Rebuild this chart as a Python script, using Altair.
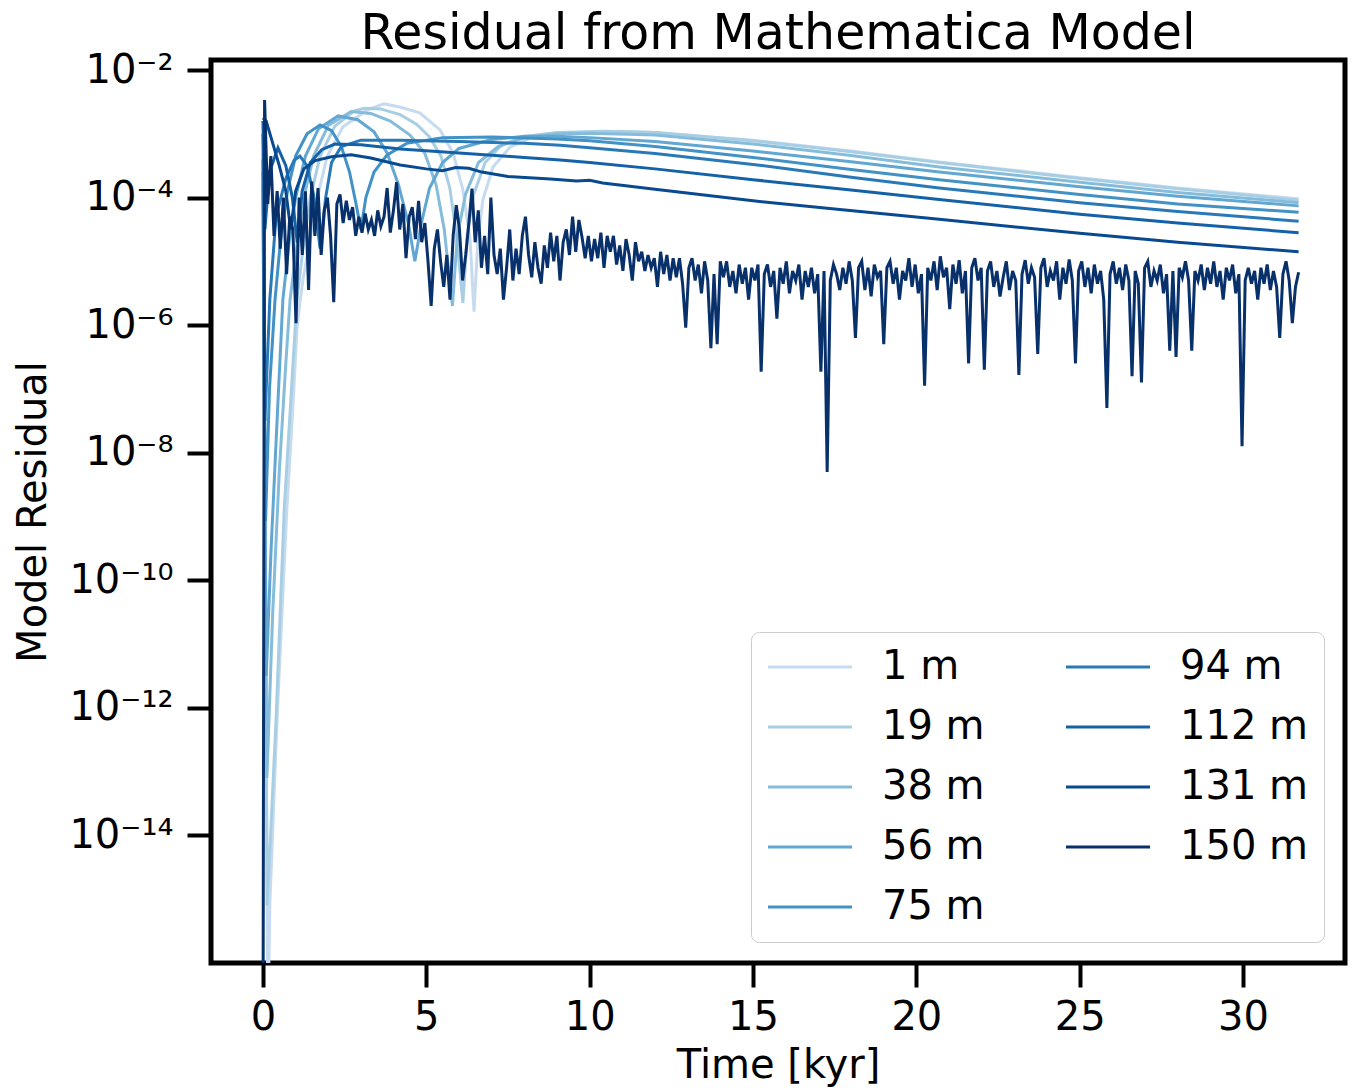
import altair as alt
import numpy as np
import pandas as pd

# ---------------- data ----------------
depths = ["1 m", "19 m", "38 m", "56 m", "75 m", "94 m", "112 m", "131 m", "150 m"]
colors = ["#c6dbef", "#a8cee4", "#85bcdb", "#61a7d2", "#4292c6",
          "#2979b9", "#1461a8", "#084990", "#08306b"]

# time [kyr] and log10(residual) for the smooth series
t_1m = [0.0, 0.15, 0.21, 0.43, 0.73, 0.92, 1.04, 1.13, 1.22, 1.44, 1.65, 1.96, 2.45, 3.18, 3.7,
        4.19, 4.8, 5.42, 5.82, 6.12, 6.34, 6.46, 6.58, 6.73, 7.04, 7.56, 8.26, 9.09, 10.0, 11.0,
        12.0, 15.0, 18.0, 20.7, 25.0, 28.0, 31.7]
e_1m = [-4.0, -17.0, -15.1, -12.2, -8.9, -7.25, -6.07, -5.65, -5.3, -4.66, -4.04, -3.36, -2.89, -2.63, -2.53,
        -2.58, -2.67, -2.94, -3.30, -3.88, -4.66, -5.79, -4.66, -4.04, -3.52, -3.21, -3.05, -2.99, -2.97, -2.96,
        -2.98, -3.10, -3.27, -3.44, -3.69, -3.85, -4.02]

t_19m = [0.0, 0.13, 0.4, 0.65, 0.85, 1.04, 1.25, 1.45, 1.75, 2.2, 2.8, 3.1, 3.6, 4.2, 4.7, 5.1,
         5.45, 5.72, 5.93, 6.12, 6.25, 6.45, 6.8, 7.3, 8.0, 9.0, 10.5, 12.0, 15.0, 18.0, 20.7,
         25.0, 28.0, 31.7]
e_19m = [-3.9, -15.1, -12.2, -8.9, -7.2, -5.6, -4.7, -4.0, -3.35, -2.88, -2.64, -2.6, -2.61, -2.7, -2.85, -3.05,
         -3.35, -3.85, -4.6, -5.65, -4.6, -3.95, -3.45, -3.18, -3.04, -2.98, -2.96, -2.98, -3.11, -3.28, -3.45,
         -3.7, -3.86, -4.04]

t_38m = [0.0, 0.12, 0.3, 0.5, 0.7, 0.83, 1.05, 1.25, 1.55, 2.0, 2.7, 3.3, 3.9, 4.5, 4.95, 5.3,
         5.55, 5.8, 5.95, 6.2, 6.6, 7.2, 8.0, 9.0, 10.0, 12.0, 15.0, 18.0, 20.7, 25.0, 28.0, 31.7]
e_38m = [-3.8, -13.1, -10.5, -8.3, -6.6, -5.6, -4.7, -4.0, -3.35, -2.87, -2.65, -2.68, -2.8, -3.02, -3.3, -3.8,
         -4.5, -5.7, -4.6, -3.95, -3.45, -3.2, -3.06, -3.0, -2.99, -3.02, -3.16, -3.34, -3.52, -3.76, -3.92, -4.08]

t_56m = [0.0, 0.1, 0.25, 0.45, 0.61, 0.8, 1.0, 1.3, 1.7, 2.3, 2.9, 3.4, 3.8, 4.15, 4.45, 4.65,
         4.85, 5.1, 5.5, 6.0, 7.0, 8.0, 9.0, 10.0, 12.0, 15.0, 18.0, 20.7, 25.0, 28.0, 31.7]
e_56m = [-3.6, -11.5, -9.5, -7.3, -5.6, -4.7, -4.0, -3.35, -2.92, -2.72, -2.78, -2.97, -3.3, -3.8, -4.4, -5.0,
         -4.4, -3.85, -3.45, -3.23, -3.09, -3.04, -3.04, -3.06, -3.12, -3.27, -3.44, -3.6, -3.83, -3.98, -4.13]

t_75m = [0.0, 0.08, 0.2, 0.37, 0.55, 0.75, 1.0, 1.35, 1.75, 2.1, 2.4, 2.65, 2.85, 3.0, 3.15,
         3.4, 3.8, 4.4, 5.5, 7.0, 9.0, 10.0, 12.0, 15.0, 18.0, 20.7, 25.0, 28.0, 31.7]
e_75m = [-3.4, -9.07, -7.0, -5.6, -4.6, -3.9, -3.35, -3.0, -2.86, -2.95, -3.2, -3.6, -4.1, -4.5, -4.0,
         -3.6, -3.33, -3.15, -3.06, -3.05, -3.08, -3.11, -3.2, -3.37, -3.56, -3.72, -3.95, -4.1, -4.23]

t_94m = [0.0, 0.06, 0.21, 0.4, 0.7, 0.95, 1.13, 1.35, 1.55, 1.75, 1.92, 2.1, 2.4, 3.0, 4.2,
         6.0, 8.0, 9.1, 10.0, 12.0, 15.0, 18.0, 20.7, 25.0, 28.0, 31.7]
e_94m = [-3.0, -7.5, -5.6, -4.3, -3.7, -3.42, -3.35, -3.5, -3.95, -4.8, -4.0, -3.45, -3.2, -3.1, -3.1,
         -3.12, -3.15, -3.18, -3.22, -3.31, -3.48, -3.68, -3.85, -4.08, -4.22, -4.37]

t_112m = [0.0, 0.06, 0.2, 0.46, 0.7, 0.9, 1.05, 1.2, 1.45, 1.8, 2.2, 3.0, 4.2, 6.0, 8.0, 9.1,
          10.0, 12.0, 15.0, 18.0, 20.7, 25.0, 28.0, 31.7]
e_112m = [-2.8, -4.5, -3.6, -3.22, -3.5, -4.0, -4.7, -3.9, -3.45, -3.25, -3.16, -3.17, -3.24, -3.3, -3.37, -3.41,
          -3.45, -3.55, -3.72, -3.88, -4.03, -4.26, -4.4, -4.55]

t_131m = [0.0, 0.1, 0.3, 0.5, 0.7, 0.85, 1.0, 1.25, 1.6, 2.1, 2.7, 3.3, 4.2, 5.0, 5.5, 5.9,
          6.3, 6.7, 7.5, 8.8, 9.6, 10.0, 10.4, 12.0, 15.0, 17.5, 20.7, 25.0, 28.0, 31.7]
e_131m = [-2.75, -2.8, -3.15, -3.5, -3.9, -4.5, -3.9, -3.55, -3.42, -3.36, -3.33, -3.38, -3.49, -3.55, -3.58, -3.53,
          -3.54, -3.6, -3.67, -3.71, -3.74, -3.73, -3.77, -3.87, -4.05, -4.18, -4.34, -4.56, -4.7, -4.85]

# noisy 150 m series: first sample at t=0 is off-scale (below 1e-16), then a regular sampling
e_150m_noisy = [
    -2.47, -4.1, -3.35, -4.6, -3.9, -4.8, -4.0, -5.2, -4.3, -4.5,
    -5.97, -4.0, -4.9, -3.9, -5.45, -3.75, -4.6, -3.85, -4.9, -4.2,
    -4.0, -4.6, -5.64, -4.1, -3.95, -4.4, -4.05, -4.35, -4.15, -4.6,
    -4.3, -4.55, -4.25, -4.5, -4.35, -4.6, -4.2, -4.45, -4.3, -3.85,
    -4.55, -4.2, -3.76, -4.5, -4.1, -4.95, -4.3, -4.15, -4.65, -4.05,
    -4.7, -4.4, -5.0, -5.7, -4.8, -4.5, -5.0, -5.4, -4.9, -5.6,
    -4.6, -4.12, -4.5, -5.3, -4.9, -4.4, -3.86, -4.7, -4.2, -5.1,
    -4.6, -5.2, -4.0, -4.9, -5.2, -4.8, -5.6, -5.1, -4.5, -5.3,
    -4.8, -5.2, -4.6, -4.3, -4.9, -5.25, -4.7, -5.1, -5.35, -4.75,
    -5.1, -4.55, -5.0, -4.6, -5.3, -4.7, -4.5, -4.9, -4.3, -4.85,
    -4.35, -4.62, -4.95, -4.6, -5.0, -4.65, -4.95, -4.55, -5.1, -4.6,
    -4.85, -4.6, -5.05, -4.75, -5.15, -4.65, -4.9, -5.3, -4.7, -5.0,
    -4.85, -5.15, -4.9, -5.1, -4.95, -5.4, -4.85, -5.2, -4.9, -5.3,
    -4.95, -5.25, -4.95, -5.35, -6.04, -5.1, -4.95, -5.3, -5.05, -5.5,
    -5.0, -5.3, -6.36, -5.2, -6.3, -5.0, -5.25, -5.0, -5.4, -5.15,
    -5.5, -5.05, -5.35, -5.1, -5.6, -5.1, -5.3, -5.05, -6.73, -5.2,
    -5.05, -5.4, -5.15, -5.9, -5.1, -5.35, -5.0, -5.5, -5.15, -5.3,
    -5.05, -5.6, -5.15, -5.4, -5.1, -5.5, -5.2, -6.73, -5.15, -8.3,
    -5.3, -5.05, -5.2, -5.45, -5.1, -5.35, -5.0, -5.3, -6.2, -5.1,
    -5.0, -5.45, -5.1, -5.55, -5.05, -5.25, -5.15, -6.3, -5.1, -5.0,
    -5.35, -5.1, -5.6, -5.15, -5.3, -4.95, -5.4, -5.05, -5.5, -5.2,
    -6.95, -5.1, -5.3, -5.0, -5.45, -4.92, -5.25, -5.1, -5.75, -5.05,
    -5.35, -4.98, -5.5, -5.15, -6.6, -5.1, -4.95, -5.3, -5.1, -6.7,
    -5.15, -5.0, -5.4, -5.15, -5.55, -5.25, -5.0, -5.45, -5.15, -5.3,
    -6.78, -5.2, -4.98, -5.35, -5.1, -5.25, -6.45, -5.1, -4.95, -5.4,
    -5.15, -5.3, -5.0, -5.6, -5.1, -5.35, -4.97, -5.3, -6.6, -5.15,
    -5.0, -5.4, -5.1, -5.5, -5.05, -5.35, -5.15, -5.6, -7.3, -5.2,
    -5.0, -5.35, -5.1, -5.45, -5.05, -5.3, -6.8, -5.15, -5.35, -6.9,
    -5.1, -5.0, -5.4, -5.15, -5.3, -5.05, -5.5, -5.2, -6.4, -5.15,
    -6.5, -5.1, -5.25, -5.0, -5.3, -6.4, -5.15, -5.3, -5.05, -5.45,
    -5.1, -5.35, -5.0, -5.4, -5.15, -5.6, -5.1, -5.3, -5.05, -5.5,
    -5.2, -7.9, -5.3, -5.1, -5.35, -5.15, -5.6, -5.1, -5.35, -5.05,
    -5.45, -5.15, -5.4, -6.2, -5.2, -5.0, -5.3, -5.97, -5.4, -5.17,
]
t_150m = [0.0] + [round(float(v), 4) for v in np.linspace(0.05, 31.7, len(e_150m_noisy))]
e_150m = [-18.0] + e_150m_noisy

series_t = [t_1m, t_19m, t_38m, t_56m, t_75m, t_94m, t_112m, t_131m, t_150m]
series_e = [e_1m, e_19m, e_38m, e_56m, e_75m, e_94m, e_112m, e_131m, e_150m]

x_ticks = [0, 5, 10, 15, 20, 25, 30]
y_tick_exps = [-2, -4, -6, -8, -10, -12, -14]
y_tick_labels = ["10\u207b\u00b2", "10\u207b\u2074", "10\u207b\u2076", "10\u207b\u2078",
                 "10\u207b\u00b9\u2070", "10\u207b\u00b9\u00b2", "10\u207b\u00b9\u2074"]

# ---------------- table ----------------
rows = []
for s, (d, ts, es) in enumerate(zip(depths, series_t, series_e)):
    for k, (t, e) in enumerate(zip(ts, es)):
        rows.append({"t": t, "v": 10.0 ** e, "depth": d, "k": k, "s": s})
df = pd.DataFrame(rows)

label_expr = "".join(
    f"round(log(datum.value)/LN10) == {e} ? '{lab}' : " for e, lab in zip(y_tick_exps, y_tick_labels)
) + "''"

FONT = "DejaVu Sans"

chart = alt.Chart(df).mark_line(strokeWidth=3, clip=True).encode(
    x=alt.X("t:Q",
            scale=alt.Scale(domain=[-1.59, 33.12], nice=False, zero=False),
            axis=alt.Axis(values=x_ticks, title="Time [kyr]", format="d",
                          tickSize=24, tickWidth=4, tickColor="black", domain=False, grid=False,
                          labelFontSize=40, labelFont=FONT, labelColor="black", labelPadding=10,
                          titleFontSize=40, titleFont=FONT, titleFontWeight="normal", titleColor="black",
                          titleX=567, titleY=114, titleBaseline="alphabetic", titleAlign="center")),
    y=alt.Y("v:Q",
            scale=alt.Scale(type="log", domain=[1e-16, 10 ** -1.843], nice=False),
            axis=alt.Axis(values=[10.0 ** e for e in y_tick_exps], labelExpr=label_expr,
                          title="Model Residual",
                          tickSize=24, tickWidth=4, tickColor="black", domain=False, grid=False,
                          labelFontSize=40, labelFont=FONT, labelColor="black", labelPadding=14,
                          titleFontSize=40, titleFont=FONT, titleFontWeight="normal", titleColor="black",
                          titleX=-166, titleY=451.5, titleBaseline="alphabetic", titleAlign="center")),
    color=alt.Color("depth:N",
                    scale=alt.Scale(domain=depths, range=colors),
                    legend=alt.Legend(title=None, orient="none", legendX=540, legendY=572,
                                      columns=2, symbolType="M-1,0L3.67,0", symbolSize=1296,
                                      symbolStrokeWidth=3, symbolFillColor="transparent",
                                      labelFontSize=40, labelFont=FONT,
                                      labelColor="black", labelOffset=76, columnPadding=75,
                                      rowPadding=20, padding=15,
                                      fillColor="rgba(255,255,255,0.8)", strokeColor="#cccccc",
                                      cornerRadius=8, labelLimit=0)),
    order=alt.Order("k:Q"),
).properties(
    width=1134, height=903,
    title=alt.TitleParams("Residual from Mathematica Model", fontSize=49, font=FONT,
                          fontWeight="normal", color="black", anchor="middle", frame="group",
                          offset=3, dy=12),
    autosize=alt.AutoSizeParams(type="none"),
    padding={"left": 211, "top": 60, "right": 8, "bottom": 128},
    background="white",
).configure_view(
    stroke="black", strokeWidth=5
)

chart.save("out.html", embed_options={"renderer": "svg", "actions": False})
